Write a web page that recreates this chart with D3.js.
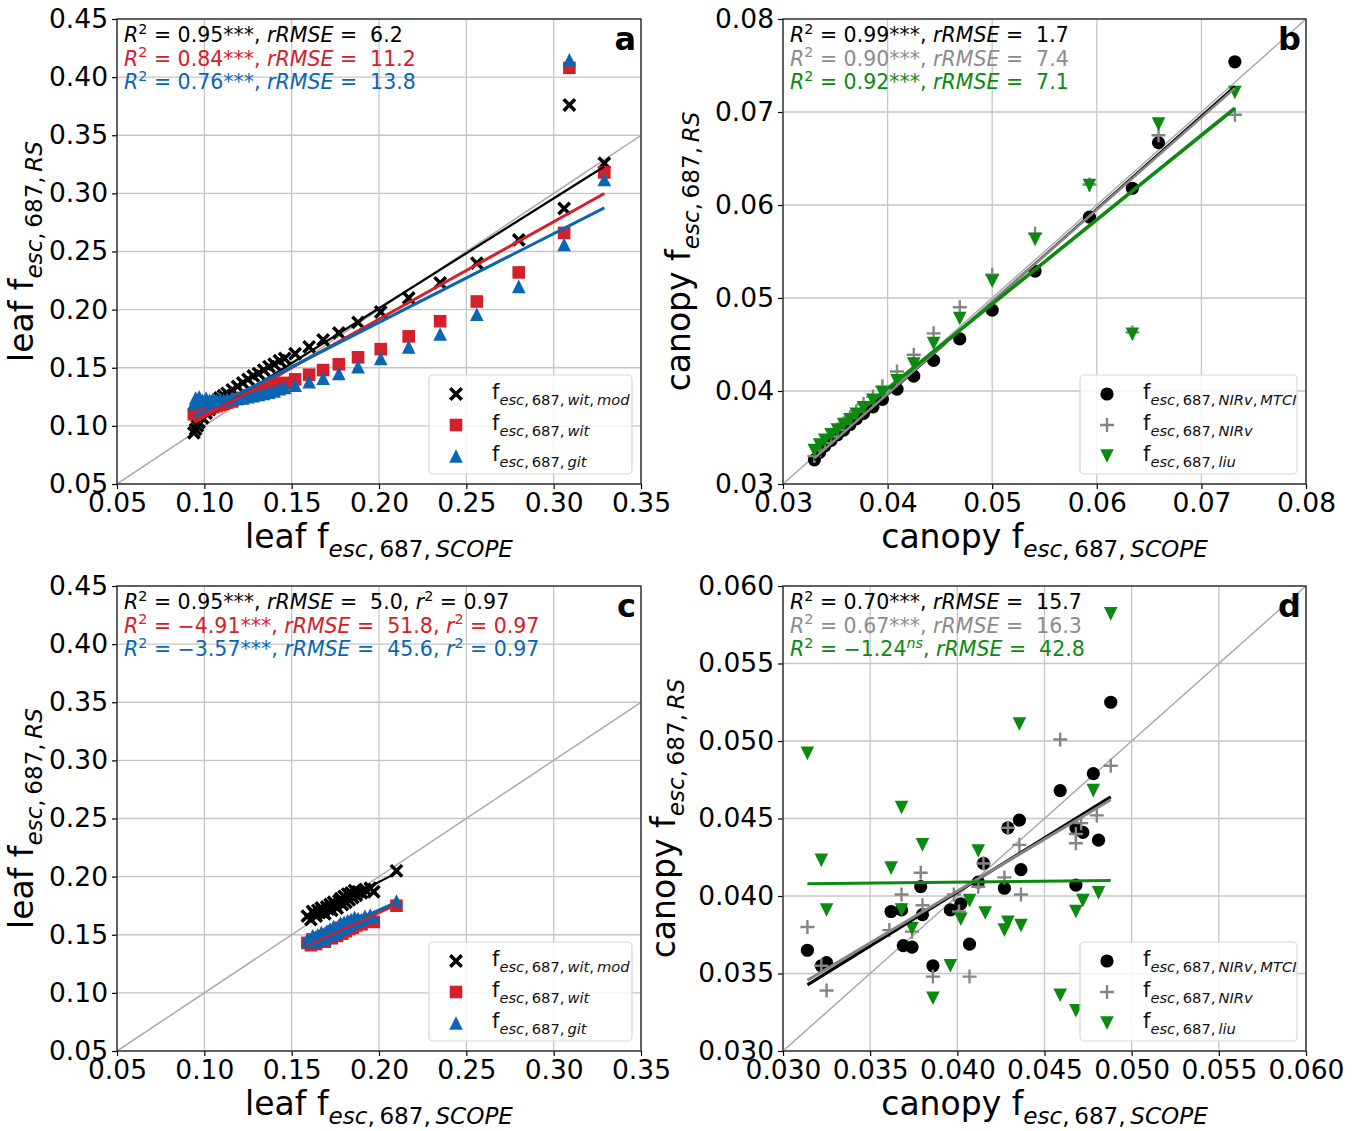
<!DOCTYPE html>
<html>
<head>
<meta charset="utf-8">
<script src="https://cdn.jsdelivr.net/npm/d3@7"></script>
<style>
  body { margin: 0; background: #fff; }
  svg { font-family: "DejaVu Sans", sans-serif; }
  text { white-space: pre; }
</style>
</head>
<body>
<svg id="fig" width="1360" height="1131"></svg>
<script>
// ---------------- tick values ----------------
const leafTicks = [0.05, 0.10, 0.15, 0.20, 0.25, 0.30, 0.35];
const leafYTicks = [0.05, 0.10, 0.15, 0.20, 0.25, 0.30, 0.35, 0.40, 0.45];
const canopyTicksB = [0.03, 0.04, 0.05, 0.06, 0.07, 0.08];
const canopyTicksD = [0.030, 0.035, 0.040, 0.045, 0.050, 0.055, 0.060];

// ---------------- panel a: leaf level, simulated data ----------------
const leafScopeA = [0.094,0.095,0.096,0.097,0.099,0.101,0.103,0.105,0.107,0.109,0.111,0.113,0.116,0.119,0.122,0.125,0.128,0.131,0.134,0.137,0.140,0.143,0.146,0.152,0.160,0.168,0.177,0.188,0.201,0.217,0.235,0.256,0.280,0.306,0.309,0.329];
const witModA = [0.094,0.097,0.100,0.103,0.107,0.111,0.114,0.118,0.121,0.124,0.126,0.128,0.131,0.134,0.137,0.140,0.143,0.145,0.148,0.151,0.153,0.156,0.158,0.162,0.168,0.174,0.180,0.189,0.198,0.210,0.223,0.240,0.260,0.287,0.376,0.326];
const witA = [0.110,0.112,0.111,0.113,0.113,0.114,0.115,0.116,0.117,0.118,0.119,0.120,0.121,0.123,0.124,0.126,0.127,0.129,0.131,0.132,0.134,0.136,0.137,0.140,0.144,0.148,0.153,0.159,0.166,0.177,0.190,0.207,0.232,0.266,0.408,0.318];
const gitA = [0.119,0.124,0.121,0.125,0.122,0.124,0.122,0.123,0.122,0.123,0.122,0.123,0.123,0.124,0.124,0.125,0.126,0.127,0.128,0.129,0.130,0.132,0.133,0.135,0.138,0.141,0.145,0.151,0.158,0.168,0.179,0.196,0.220,0.256,0.415,0.312];
const fitSlopeA = [0.945, 0.838, 0.764];
const fitInterceptA = [0.0122, 0.0242, 0.0362];
const statR2A = ["0.95", "0.84", "0.76"];
const statRmseA = ["6.2", "11.2", "13.8"];

// ---------------- panel b: canopy level, simulated data ----------------
const canopyScopeB = [0.0330,0.0335,0.0340,0.0346,0.0352,0.0358,0.0364,0.0370,0.0377,0.0386,0.0395,0.0409,0.0425,0.0444,0.0469,0.0500,0.0541,0.0593,0.0634,0.0659,0.0732];
const nirvMtciB = [0.0326,0.0334,0.0341,0.0347,0.0353,0.0358,0.0364,0.0370,0.0376,0.0383,0.0391,0.0402,0.0416,0.0433,0.0456,0.0487,0.0529,0.0587,0.0618,0.0667,0.0754];
const nirvB = [0.0330,0.0337,0.0344,0.0351,0.0358,0.0365,0.0371,0.0378,0.0386,0.0394,0.0405,0.0421,0.0439,0.0462,0.0490,0.0525,0.0569,0.0622,0.0463,0.0675,0.0697];
const liuB = [0.0336,0.0342,0.0347,0.0353,0.0358,0.0364,0.0369,0.0375,0.0382,0.0390,0.0398,0.0411,0.0429,0.0451,0.0478,0.0518,0.0563,0.0621,0.0461,0.0687,0.0721];
const fitSlopeB = [1.000, 0.990, 0.908];
const fitInterceptB = [-0.0004, 0.0001, 0.00394];
const statR2B = ["0.99", "0.90", "0.92"];
const statRmseB = ["1.7", "7.4", "7.1"];

// ---------------- panel c: leaf level, measured data ----------------
const leafScopeC = [0.159,0.161,0.162,0.163,0.164,0.165,0.166,0.167,0.168,0.169,0.170,0.171,0.172,0.173,0.174,0.175,0.176,0.177,0.178,0.179,0.180,0.181,0.182,0.183,0.184,0.185,0.186,0.187,0.188,0.190,0.192,0.195,0.197,0.210];
const witModC = [0.166,0.163,0.170,0.168,0.166,0.171,0.169,0.173,0.170,0.168,0.174,0.172,0.176,0.171,0.178,0.175,0.173,0.179,0.181,0.176,0.183,0.178,0.185,0.180,0.186,0.182,0.188,0.184,0.187,0.186,0.189,0.190,0.187,0.205];
const witC = [0.143,0.141,0.146,0.144,0.142,0.147,0.145,0.148,0.146,0.144,0.150,0.148,0.151,0.147,0.153,0.150,0.149,0.154,0.156,0.151,0.157,0.153,0.158,0.155,0.159,0.156,0.161,0.158,0.160,0.159,0.162,0.163,0.161,0.175];
const gitC = [0.146,0.144,0.149,0.147,0.145,0.150,0.148,0.152,0.149,0.147,0.153,0.151,0.155,0.150,0.157,0.153,0.152,0.158,0.160,0.155,0.161,0.157,0.162,0.159,0.163,0.160,0.165,0.162,0.164,0.163,0.166,0.167,0.165,0.179];
const fitSlopeC = [0.784, 0.680, 0.680];
const fitInterceptC = [0.0386, 0.0332, 0.0352];
const statR2C = ["0.95", "\u22124.91", "\u22123.57"];
const statRmseC = ["5.0", "51.8", "45.6"];
const statPearsonC = ["0.97", "0.97", "0.97"];

// ---------------- panel d: canopy level, measured data ----------------
const scopeD1 = [0.0314,0.0322,0.0325,0.0362,0.0368,0.0369,0.0374,0.0379,0.0380,0.0386,0.0396,0.0402,0.0407,0.0412,0.0415,0.0427,0.0429,0.04356,0.04365,0.0459,0.0468,0.0468,0.0472,0.0478,0.0481,0.0488];
const nirvMtciD = [0.0365,0.0355,0.0357,0.0390,0.0391,0.0368,0.0367,0.0406,0.0388,0.0355,0.0391,0.0395,0.0369,0.0409,0.0421,0.0405,0.0444,0.0449,0.0417,0.0468,0.0407,0.0444,0.0441,0.0479,0.0436,0.0525];
const scopeD2 = [0.0314,0.0322,0.0325,0.0361,0.0368,0.0374,0.0379,0.0380,0.0386,0.0398,0.0401,0.0407,0.0412,0.0415,0.0427,0.0429,0.04356,0.04365,0.0459,0.0468,0.0468,0.0471,0.0480,0.0488];
const nirvD = [0.0380,0.0355,0.0339,0.0378,0.0401,0.0377,0.0415,0.0394,0.0348,0.0401,0.0390,0.0348,0.0406,0.0421,0.0412,0.0444,0.0433,0.0401,0.0501,0.0434,0.0440,0.0447,0.0452,0.0484];
const scopeD3 = [0.0314,0.0322,0.0325,0.0362,0.0368,0.0368,0.0374,0.0380,0.0386,0.0396,0.0402,0.0407,0.0412,0.0416,0.0427,0.0429,0.04356,0.04365,0.0459,0.0468,0.0468,0.0472,0.0478,0.0481,0.0488];
const liuD = [0.0492,0.0423,0.0391,0.0418,0.0457,0.0391,0.0379,0.0433,0.0334,0.0355,0.0385,0.0397,0.0429,0.0389,0.0378,0.0383,0.0511,0.0381,0.0336,0.0326,0.0390,0.0397,0.0468,0.0402,0.0582];
const fitSlopeD = [0.697, 0.669, 0.0114];
const fitInterceptD = [0.01238, 0.01356, 0.04044];
const statR2D = ["0.70", "0.67", "\u22121.24"];
const statSigD = ["***", "***", "ns"];
const statRmseD = ["15.7", "16.3", "42.8"];

// ---------------- styling ----------------
const RED = "#d4202a", BLUE = "#0a66b2", GREEN = "#0b8a0f", GRAY = "#858585";
const FONT_TICK = 26.5, FONT_TITLE = 33, FONT_NOTE = 20.5, FONT_LEG = 21;

const svg = d3.select("#fig");

// marker path builders (centred on 0,0)
const markerPath = {
  x: s => `M${-s},${-s}L${s},${s}M${-s},${s}L${s},${-s}`,
  plus: s => `M${-s},0H${s}M0,${-s}V${s}`,
  square: s => `M${-s},${-s}H${s}V${s}H${-s}Z`,
  triUp: s => `M0,${-s}L${s},${s}L${-s},${s}Z`,
  triDown: s => `M0,${s}L${s},${-s}L${-s},${-s}Z`,
  circle: s => d3.symbol(d3.symbolCircle, Math.PI * s * s)()
};
function styleMarker(sel, m, color) {
  if (m === "x" || m === "plus") {
    sel.attr("fill", "none").attr("stroke", color)
       .attr("stroke-width", m === "x" ? 3.5 : 2.4);
  } else {
    sel.attr("fill", color).attr("stroke", "none");
  }
}
const markerSize = { x: 5.7, plus: 7, square: 6.3, triUp: 6.8, triDown: 6.8, circle: 6.6 };

// rich text: parts are {t, i (italic), sup, sub}
function rich(sel, parts, size) {
  let shift = 0;
  parts.forEach(p => {
    let target = 0, fs = size;
    if (p.sup) { target = -0.40 * size; fs = size * 0.7; }
    if (p.sub) { target = 0.28 * size; fs = size * 0.7; }
    const ts = sel.append("tspan").text(p.t)
      .attr("font-size", fs)
      .attr("dy", (target - shift).toFixed(2));
    if (p.i) ts.attr("font-style", "italic");
    shift = target;
  });
}
const TH = "\u2009";
function fLabel(words) {
  // f with subscript "esc, 687, <words>"
  const parts = [{t: "f"}, {t: "esc", i: 1, sub: 1}, {t: "," + TH + "687," + TH, sub: 1}];
  words.forEach((w, k) => {
    if (k > 0) parts.push({t: "," + TH, sub: 1});
    parts.push({t: w, i: 1, sub: 1});
  });
  return parts;
}
function statLine(r2, sig, rmse, pear) {
  const parts = [{t: "R", i: 1}, {t: "2", sup: 1}, {t: " = " + r2}];
  if (sig === "ns") parts.push({t: "ns", i: 1, sup: 1});
  else parts.push({t: sig});
  parts.push({t: ", "}, {t: "rRMSE", i: 1}, {t: " =  " + rmse});
  if (pear) parts.push({t: ", "}, {t: "r", i: 1}, {t: "2", sup: 1}, {t: " = " + pear});
  return parts;
}

function drawPanel(p, k) {
  const g = svg.append("g");
  const x = d3.scaleLinear(p.xd, [p.left, p.right]);
  const y = d3.scaleLinear(p.yd, [p.bottom, p.top]);
  const w = p.right - p.left, h = p.bottom - p.top;

  // grid
  g.append("g").selectAll("line").data(p.xt).join("line")
    .attr("x1", d => x(d)).attr("x2", d => x(d)).attr("y1", p.top).attr("y2", p.bottom)
    .attr("stroke", "#c6c6c6").attr("stroke-width", 1.3);
  g.append("g").selectAll("line").data(p.yt).join("line")
    .attr("y1", d => y(d)).attr("y2", d => y(d)).attr("x1", p.left).attr("x2", p.right)
    .attr("stroke", "#c6c6c6").attr("stroke-width", 1.3);

  const clipId = "clip" + k;
  svg.append("clipPath").attr("id", clipId).append("rect")
    .attr("x", p.left).attr("y", p.top).attr("width", w).attr("height", h);
  const plot = g.append("g").attr("clip-path", `url(#${clipId})`);

  // 1:1 line
  const lo = Math.max(p.xd[0], p.yd[0]), hi = Math.min(p.xd[1], p.yd[1]);
  plot.append("line").attr("x1", x(lo)).attr("y1", y(lo)).attr("x2", x(hi)).attr("y2", y(hi))
    .attr("stroke", "#ababab").attr("stroke-width", 1.5);

  // scatter
  p.series.forEach(s => {
    const pts = s.x.map((v, i) => [v, s.y[i]]);
    const sel = plot.append("g").selectAll("path").data(pts).join("path")
      .attr("d", markerPath[s.marker](markerSize[s.marker]))
      .attr("transform", d => `translate(${x(d[0])},${y(d[1])})`);
    styleMarker(sel, s.marker, s.color);
  });
  // regression lines
  p.series.forEach(s => {
    const [x0, x1] = d3.extent(s.x);
    plot.append("line")
      .attr("x1", x(x0)).attr("y1", y(s.slope * x0 + s.icpt))
      .attr("x2", x(x1)).attr("y2", y(s.slope * x1 + s.icpt))
      .attr("stroke", s.color).attr("stroke-width", s.lw);
  });

  // axes
  const fmt = d3.format(p.fmt);
  const ax = g.append("g").attr("transform", `translate(0,${p.bottom})`)
    .call(d3.axisBottom(x).tickValues(p.xt).tickFormat(fmt).tickSize(5).tickPadding(4));
  const ay = g.append("g").attr("transform", `translate(${p.left},0)`)
    .call(d3.axisLeft(y).tickValues(p.yt).tickFormat(fmt).tickSize(5).tickPadding(4));
  [ax, ay].forEach(a => {
    a.select(".domain").remove();
    a.attr("font-size", FONT_TICK).attr("font-family", "DejaVu Sans");
    a.selectAll("line").attr("stroke", "#000").attr("stroke-width", 1.2);
    a.selectAll("text").attr("fill", "#000");
  });
  g.append("rect").attr("x", p.left).attr("y", p.top).attr("width", w).attr("height", h)
    .attr("fill", "none").attr("stroke", "#222").attr("stroke-width", 1.3);

  // axis titles
  const xt = g.append("text").attr("x", (p.left + p.right) / 2).attr("y", p.bottom + 64)
    .attr("text-anchor", "middle").attr("font-size", FONT_TITLE);
  rich(xt, [{t: p.level + " f"}, {t: "esc", i: 1, sub: 1}, {t: "," + TH + "687," + TH, sub: 1}, {t: "SCOPE", i: 1, sub: 1}], FONT_TITLE);
  const yt = g.append("text")
    .attr("transform", `translate(${p.yTitleX},${(p.top + p.bottom) / 2}) rotate(-90)`)
    .attr("text-anchor", "middle").attr("font-size", FONT_TITLE);
  rich(yt, [{t: p.level + " f"}, {t: "esc", i: 1, sub: 1}, {t: "," + TH + "687," + TH, sub: 1}, {t: "RS", i: 1, sub: 1}], FONT_TITLE);

  // statistics
  p.series.forEach((s, i) => {
    const t = g.append("text").attr("x", p.left + 7).attr("y", p.top + 23 + i * 23.5)
      .attr("font-size", FONT_NOTE).attr("fill", s.noteColor || s.color);
    rich(t, s.note, FONT_NOTE);
  });

  // panel letter
  g.append("text").attr("x", p.right - 5).attr("y", p.top + 31)
    .attr("text-anchor", "end").attr("font-size", 32).attr("font-weight", "bold").text(p.letter);

  // legend
  const lw = p.legW, lh = 99;
  const lx = p.right - 9 - lw, ly = p.bottom - 10 - lh;
  g.append("rect").attr("x", lx).attr("y", ly).attr("width", lw).attr("height", lh)
    .attr("rx", 4).attr("fill", "#fff").attr("fill-opacity", 0.82)
    .attr("stroke", "#d6d6d6").attr("stroke-width", 1.2);
  p.series.forEach((s, i) => {
    const cy = ly + 19 + i * 31;
    const m = g.append("path").attr("d", markerPath[s.marker](markerSize[s.marker]))
      .attr("transform", `translate(${lx + 27},${cy})`);
    styleMarker(m, s.marker, s.color);
    const t = g.append("text").attr("x", lx + 63).attr("y", cy + 5).attr("font-size", FONT_LEG).attr("fill", "#111");
    rich(t, fLabel(s.words), FONT_LEG);
  });
}

const panels = [
  { letter: "a", level: "leaf", left: 117, right: 641, top: 19, bottom: 484,
    xd: [0.05, 0.35], yd: [0.05, 0.45], xt: leafTicks, yt: leafYTicks, fmt: ".2f", yTitleX: 33, legW: 203,
    series: [
      { x: leafScopeA, y: witModA, color: "#000", marker: "x", slope: fitSlopeA[0], icpt: fitInterceptA[0], lw: 2.2, words: ["wit", "mod"], note: statLine(statR2A[0], "***", statRmseA[0]) },
      { x: leafScopeA, y: witA, color: RED, marker: "square", slope: fitSlopeA[1], icpt: fitInterceptA[1], lw: 3, words: ["wit"], note: statLine(statR2A[1], "***", statRmseA[1]) },
      { x: leafScopeA, y: gitA, color: BLUE, marker: "triUp", slope: fitSlopeA[2], icpt: fitInterceptA[2], lw: 3, words: ["git"], note: statLine(statR2A[2], "***", statRmseA[2]) }
    ] },
  { letter: "b", level: "canopy", left: 783, right: 1306, top: 19, bottom: 484,
    xd: [0.03, 0.08], yd: [0.03, 0.08], xt: canopyTicksB, yt: canopyTicksB, fmt: ".2f", yTitleX: 690, legW: 217,
    series: [
      { x: canopyScopeB, y: nirvMtciB, color: "#000", marker: "circle", slope: fitSlopeB[0], icpt: fitInterceptB[0], lw: 2.2, words: ["NIRv", "MTCI"], note: statLine(statR2B[0], "***", statRmseB[0]) },
      { x: canopyScopeB, y: nirvB, color: GRAY, marker: "plus", slope: fitSlopeB[1], icpt: fitInterceptB[1], lw: 2.6, words: ["NIRv"], noteColor: "#8c8c8c", note: statLine(statR2B[1], "***", statRmseB[1]) },
      { x: canopyScopeB, y: liuB, color: GREEN, marker: "triDown", slope: fitSlopeB[2], icpt: fitInterceptB[2], lw: 3.6, words: ["liu"], note: statLine(statR2B[2], "***", statRmseB[2]) }
    ] },
  { letter: "c", level: "leaf", left: 117, right: 641, top: 586, bottom: 1051,
    xd: [0.05, 0.35], yd: [0.05, 0.45], xt: leafTicks, yt: leafYTicks, fmt: ".2f", yTitleX: 33, legW: 203,
    series: [
      { x: leafScopeC, y: witModC, color: "#000", marker: "x", slope: fitSlopeC[0], icpt: fitInterceptC[0], lw: 2.2, words: ["wit", "mod"], note: statLine(statR2C[0], "***", statRmseC[0], statPearsonC[0]) },
      { x: leafScopeC, y: witC, color: RED, marker: "square", slope: fitSlopeC[1], icpt: fitInterceptC[1], lw: 3, words: ["wit"], note: statLine(statR2C[1], "***", statRmseC[1], statPearsonC[1]) },
      { x: leafScopeC, y: gitC, color: BLUE, marker: "triUp", slope: fitSlopeC[2], icpt: fitInterceptC[2], lw: 3, words: ["git"], note: statLine(statR2C[2], "***", statRmseC[2], statPearsonC[2]) }
    ] },
  { letter: "d", level: "canopy", left: 783, right: 1306, top: 586, bottom: 1051,
    xd: [0.030, 0.060], yd: [0.030, 0.060], xt: canopyTicksD, yt: canopyTicksD, fmt: ".3f", yTitleX: 675, legW: 217,
    series: [
      { x: scopeD1, y: nirvMtciD, color: "#000", marker: "circle", slope: fitSlopeD[0], icpt: fitInterceptD[0], lw: 3, words: ["NIRv", "MTCI"], note: statLine(statR2D[0], statSigD[0], statRmseD[0]) },
      { x: scopeD2, y: nirvD, color: GRAY, marker: "plus", slope: fitSlopeD[1], icpt: fitInterceptD[1], lw: 3, words: ["NIRv"], noteColor: "#8c8c8c", note: statLine(statR2D[1], statSigD[1], statRmseD[1]) },
      { x: scopeD3, y: liuD, color: GREEN, marker: "triDown", slope: fitSlopeD[2], icpt: fitInterceptD[2], lw: 3, words: ["liu"], note: statLine(statR2D[2], statSigD[2], statRmseD[2]) }
    ] }
];

panels.forEach(drawPanel);
</script>
</body>
</html>
